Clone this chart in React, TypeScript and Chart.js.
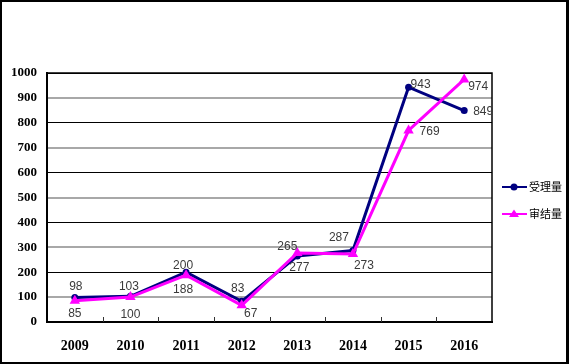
import React, { useEffect, useRef } from "react";
import { Chart, registerables } from "chart.js";

Chart.register(...registerables);

const years = ["2009", "2010", "2011", "2012", "2013", "2014", "2015", "2016"];
const accepted = [98, 103, 200, 83, 265, 287, 943, 849];
const concluded = [85, 100, 188, 67, 277, 273, 769, 974];
const seriesNames = ["受理量", "审结量"];

// label offsets relative to each point (dx, dy) – placement only
const acceptedLabelOffsets: [number, number][] = [
  [1, -11], [-1.5, -10], [-3, -7], [-4, -13], [-10, -9.5], [-14, -13], [12, -3], [19, 1],
];
const concludedLabelOffsets: [number, number][] = [
  [0, 12.5], [0, 18], [-3, 14], [9, 8], [2, 14.5], [11, 12], [21, 1], [14, 7],
];

const framePlugin = {
  id: "frame",
  beforeDraw(chart: any) {
    const { ctx, width, height } = chart;
    ctx.save();
    ctx.fillStyle = "#fff";
    ctx.fillRect(0, 0, width, height);
    ctx.restore();
  },
  beforeDatasetsDraw(chart: any) {
    const { ctx, chartArea } = chart;
    const xs = chart.scales.x;
    ctx.save();
    ctx.strokeStyle = "#000";
    ctx.lineWidth = 1.5;
    ctx.beginPath();
    ctx.moveTo(chartArea.left, chartArea.top);
    ctx.lineTo(chartArea.right, chartArea.top);
    ctx.lineTo(chartArea.right, chartArea.bottom);
    ctx.stroke();
    // category boundary tick marks
    ctx.lineWidth = 1;
    ctx.strokeStyle = "#333";
    for (let i = 1; i < years.length; i++) {
      const x = Math.round((xs.getPixelForValue(i - 1) + xs.getPixelForValue(i)) / 2) + 0.5;
      ctx.beginPath();
      ctx.moveTo(x, chartArea.bottom);
      ctx.lineTo(x, chartArea.bottom - 5);
      ctx.stroke();
    }
    ctx.restore();
  },
  afterDraw(chart: any) {
    const { ctx, width, height } = chart;
    ctx.save();
    // data labels
    ctx.font = "12px 'Liberation Sans'";
    ctx.fillStyle = "#3a3a3a";
    ctx.textAlign = "center";
    ctx.textBaseline = "middle";
    const offs = [acceptedLabelOffsets, concludedLabelOffsets];
    chart.data.datasets.forEach((ds: any, di: number) => {
      const meta = chart.getDatasetMeta(di);
      meta.data.forEach((pt: any, i: number) => {
        const [dx, dy] = offs[di][i];
        ctx.fillText(String(ds.data[i]), pt.x + dx, pt.y + dy);
      });
    });
    // legend
    const ly = [187, 214];
    chart.data.datasets.forEach((ds: any, di: number) => {
      const y = ly[di];
      ctx.strokeStyle = ds.borderColor;
      ctx.lineWidth = 2;
      ctx.beginPath();
      ctx.moveTo(502, y);
      ctx.lineTo(527, y);
      ctx.stroke();
      ctx.fillStyle = ds.borderColor;
      ctx.beginPath();
      if (di === 0) {
        ctx.arc(514, y, 3.5, 0, Math.PI * 2);
      } else {
        ctx.moveTo(514, y - 4.5);
        ctx.lineTo(519, y + 3);
        ctx.lineTo(509, y + 3);
        ctx.closePath();
      }
      ctx.fill();
      ctx.fillStyle = "#000";
      ctx.font = "11px 'Noto Sans CJK SC'";
      ctx.textAlign = "left";
      ctx.fillText(ds.label, 529, y);
    });
    // outer frame
    ctx.strokeStyle = "#000";
    ctx.lineWidth = 2;
    ctx.strokeRect(1, 1, width - 3, height - 2);
    ctx.fillStyle = "#000";
    ctx.fillRect(width - 3, 0, 3, height);
    ctx.restore();
  },
};

export default function App() {
  const ref = useRef<HTMLCanvasElement>(null);
  useEffect(() => {
    if (!ref.current) return;
    const chart = new Chart(ref.current, {
      type: "line",
      data: {
        labels: years,
        datasets: [
          {
            label: seriesNames[0],
            data: accepted,
            borderColor: "#000080",
            backgroundColor: "#000080",
            borderWidth: 3,
            pointStyle: "circle",
            pointRadius: 3.5,
            pointBorderWidth: 0,
            tension: 0,
            order: 1,
          },
          {
            label: seriesNames[1],
            data: concluded,
            borderColor: "#FF00FF",
            backgroundColor: "#FF00FF",
            borderWidth: 3,
            pointStyle: "triangle",
            pointRadius: 6,
            pointBorderWidth: 0,
            tension: 0,
            order: 0,
          },
        ],
      },
      options: {
        responsive: false,
        animation: false,
        layout: { padding: { top: 73, right: 77, left: 0, bottom: 0 } },
        plugins: { legend: { display: false }, tooltip: { enabled: false } },
        scales: {
          x: {
            offset: true,
            grid: { display: false, drawTicks: false },
            border: { display: true, color: "#000", width: 2 },
            ticks: {
              color: "#000",
              padding: 16,
              font: { family: "'Liberation Serif'", size: 14, weight: "bold" },
            },
            afterFit: (s: any) => { s.height = 42; },
          },
          y: {
            min: 0,
            max: 1000,
            grid: {
              drawTicks: false,
              color: (c: any) => (c.tick && c.tick.value % 200 === 0 ? "#000" : "#a8a8a8"),
              lineWidth: (c: any) => (c.tick && c.tick.value % 200 === 0 ? 1 : 2),
            },
            border: { display: true, color: "#000", width: 2 },
            ticks: {
              stepSize: 100,
              color: "#000",
              padding: 10,
              callback: (v: any) => String(v),
              font: { family: "'Liberation Serif'", size: 13, weight: "bold" },
            },
            afterFit: (s: any) => { s.width = 47; },
          },
        },
      },
      plugins: [framePlugin],
    });
    return () => chart.destroy();
  }, []);
  return (
    <div style={{ position: "fixed", left: 0, top: 0, width: 569, height: 364 }}>
      <canvas ref={ref} width={569} height={364} style={{ display: "block" }} />
    </div>
  );
}
